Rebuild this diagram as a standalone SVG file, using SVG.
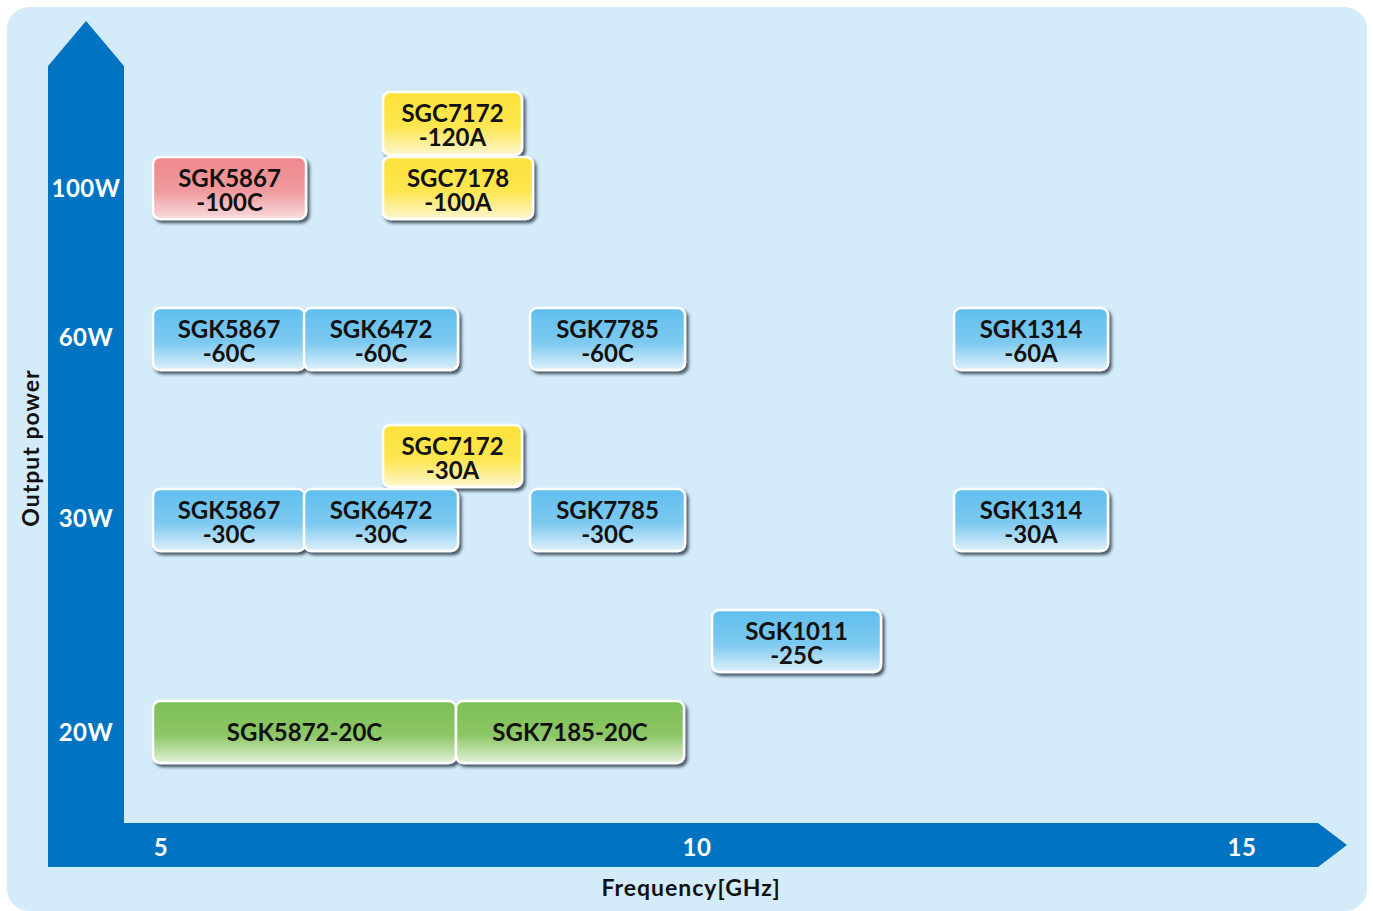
<svg xmlns="http://www.w3.org/2000/svg" width="1373" height="911" viewBox="0 0 1373 911">
<defs>
<linearGradient id="gBlue" x1="0" y1="0" x2="0" y2="1"><stop offset="0" stop-color="#60bfee"/><stop offset="0.55" stop-color="#7cc9f0"/><stop offset="1" stop-color="#def0fa"/></linearGradient>
<linearGradient id="gYellow" x1="0" y1="0" x2="0" y2="1"><stop offset="0" stop-color="#fde23a"/><stop offset="0.55" stop-color="#fde650"/><stop offset="1" stop-color="#fdf6cf"/></linearGradient>
<linearGradient id="gRed" x1="0" y1="0" x2="0" y2="1"><stop offset="0" stop-color="#ee898d"/><stop offset="0.55" stop-color="#f09a9e"/><stop offset="1" stop-color="#f9dcde"/></linearGradient>
<linearGradient id="gGreen" x1="0" y1="0" x2="0" y2="1"><stop offset="0" stop-color="#7dbf56"/><stop offset="0.55" stop-color="#8cc766"/><stop offset="1" stop-color="#e2f0d6"/></linearGradient>
<filter id="sh" x="-10%" y="-20%" width="125%" height="150%"><feDropShadow dx="2.5" dy="3" stdDeviation="1.5" flood-color="#1a2a3a" flood-opacity="0.75"/></filter>
</defs>
<style>
.box{stroke:#ffffff;stroke-width:2.5;filter:url(#sh)}
.b{fill:url(#gBlue)}.y{fill:url(#gYellow)}.r{fill:url(#gRed)}.g{fill:url(#gGreen)}
.t{font-family:"Lato","Liberation Sans",sans-serif;font-weight:700;font-size:24px;fill:#111111;text-anchor:middle}
.ax{font-family:"Lato","Liberation Sans",sans-serif;font-weight:700;font-size:24px;fill:#ffffff;text-anchor:middle;letter-spacing:0.5px}
.lab{font-family:"Lato","Liberation Sans",sans-serif;font-weight:700;font-size:23px;fill:#111111;text-anchor:middle;letter-spacing:1px}
</style>
<rect x="7" y="7" width="1360" height="904" rx="22" fill="#d4ebf9"/>
<g id="axes">
<polygon points="48,66 86,21 124,66 124,823 48,823" fill="#0074c2"/>
<polygon points="48,823 1318,823 1347,845 1318,867 48,867" fill="#0074c2"/>
<text class="ax" x="86" y="197">100W</text>
<text class="ax" x="86" y="346">60W</text>
<text class="ax" x="86" y="527">30W</text>
<text class="ax" x="86" y="741">20W</text>
<text class="ax" x="161" y="856">5</text>
<text class="ax" x="697" y="856">10</text>
<text class="ax" x="1242" y="856">15</text>
<text class="lab" x="691" y="896">Frequency[GHz]</text>
<text class="lab" transform="translate(39,448) rotate(-90)">Output power</text>
</g>
<g id="connectors"></g>
<g id="n-sgk5867-100c"><rect class="box r" x="153" y="157" width="153" height="62" rx="7"/><text class="t" x="229.5" y="187">SGK5867<tspan x="229.5" dy="24">-100C</tspan></text></g>
<g id="n-sgc7172-120a"><rect class="box y" x="383" y="92" width="139" height="63" rx="7"/><text class="t" x="452.5" y="122">SGC7172<tspan x="452.5" dy="24">-120A</tspan></text></g>
<g id="n-sgc7178-100a"><rect class="box y" x="383" y="157" width="150" height="62" rx="7"/><text class="t" x="458" y="187">SGC7178<tspan x="458" dy="24">-100A</tspan></text></g>
<g id="n-sgk5867-60c"><rect class="box b" x="153" y="308" width="152" height="62" rx="7"/><text class="t" x="229" y="338">SGK5867<tspan x="229" dy="24">-60C</tspan></text></g>
<g id="n-sgk6472-60c"><rect class="box b" x="304" y="308" width="154" height="62" rx="7"/><text class="t" x="381" y="338">SGK6472<tspan x="381" dy="24">-60C</tspan></text></g>
<g id="n-sgk7785-60c"><rect class="box b" x="530" y="308" width="155" height="62" rx="7"/><text class="t" x="607.5" y="338">SGK7785<tspan x="607.5" dy="24">-60C</tspan></text></g>
<g id="n-sgk1314-60a"><rect class="box b" x="954" y="308" width="154" height="62" rx="7"/><text class="t" x="1031" y="338">SGK1314<tspan x="1031" dy="24">-60A</tspan></text></g>
<g id="n-sgc7172-30a"><rect class="box y" x="383" y="425" width="139" height="62" rx="7"/><text class="t" x="452.5" y="455">SGC7172<tspan x="452.5" dy="24">-30A</tspan></text></g>
<g id="n-sgk5867-30c"><rect class="box b" x="153" y="489" width="152" height="62" rx="7"/><text class="t" x="229" y="519">SGK5867<tspan x="229" dy="24">-30C</tspan></text></g>
<g id="n-sgk6472-30c"><rect class="box b" x="304" y="489" width="154" height="62" rx="7"/><text class="t" x="381" y="519">SGK6472<tspan x="381" dy="24">-30C</tspan></text></g>
<g id="n-sgk7785-30c"><rect class="box b" x="530" y="489" width="155" height="62" rx="7"/><text class="t" x="607.5" y="519">SGK7785<tspan x="607.5" dy="24">-30C</tspan></text></g>
<g id="n-sgk1314-30a"><rect class="box b" x="954" y="489" width="154" height="62" rx="7"/><text class="t" x="1031" y="519">SGK1314<tspan x="1031" dy="24">-30A</tspan></text></g>
<g id="n-sgk1011-25c"><rect class="box b" x="712" y="610" width="169" height="62" rx="7"/><text class="t" x="796.5" y="640">SGK1011<tspan x="796.5" dy="24">-25C</tspan></text></g>
<g id="n-sgk5872-20c"><rect class="box g" x="153" y="701" width="303" height="62" rx="7"/><text class="t" x="304.5" y="741">SGK5872-20C</text></g>
<g id="n-sgk7185-20c"><rect class="box g" x="456" y="701" width="228" height="62" rx="7"/><text class="t" x="570" y="741">SGK7185-20C</text></g>
</svg>
